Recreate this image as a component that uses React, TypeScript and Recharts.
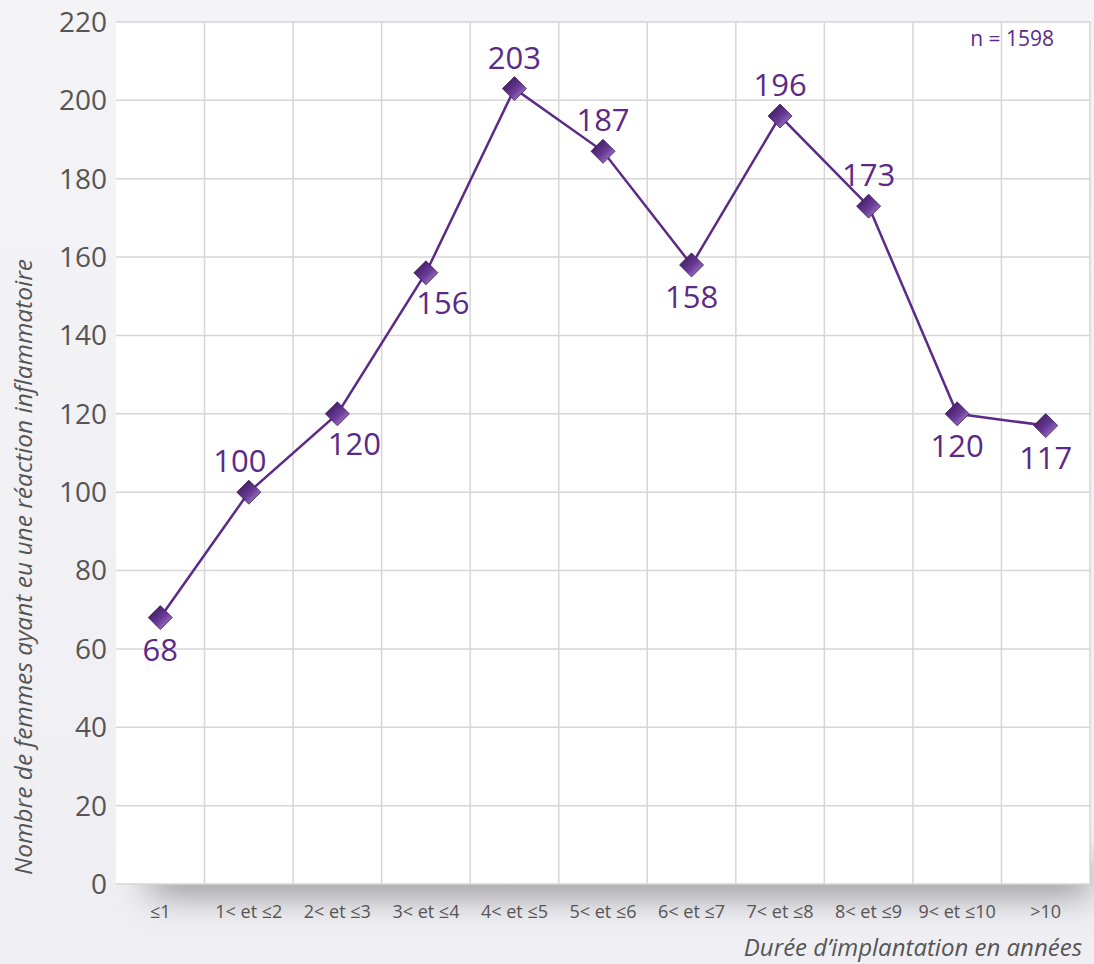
import React from "react";
import {
  LineChart,
  Line,
  XAxis,
  YAxis,
  CartesianGrid,
  LabelList,
  Label,
  Customized,
} from "recharts";

const categories = [
  "≤1",
  "1< et ≤2",
  "2< et ≤3",
  "3< et ≤4",
  "4< et ≤5",
  "5< et ≤6",
  "6< et ≤7",
  "7< et ≤8",
  "8< et ≤9",
  "9< et ≤10",
  ">10",
];
const femmes = [68, 100, 120, 156, 203, 187, 158, 196, 173, 120, 117];
// where each value label sits relative to its point
const labelPlacement = ["below", "above", "belowRight", "belowRight", "above", "above", "below", "above", "above", "below", "below"];
const yTicks = [0, 20, 40, 60, 80, 100, 120, 140, 160, 180, 200, 220];
const totalN = 1598;

const data = categories.map((c, i) => ({ cat: c, femmes: femmes[i] }));

const FONT = "'Open Sans', sans-serif";
const PURPLE = "#5b2a86";
const GREY = "#555555";

function Diamond(props: any) {
  const { cx, cy } = props;
  if (cx == null || cy == null) return null;
  const r = 12;
  return (
    <path
      d={`M${cx},${cy - r} L${cx + r},${cy} L${cx},${cy + r} L${cx - r},${cy} Z`}
      fill="url(#diamondGrad)"
      stroke="#3d1a5e"
      strokeWidth={0.8}
    />
  );
}

function ValueLabel(props: any) {
  const { x, y, width, value, index } = props;
  const cx = x + (width || 0) / 2;
  const place = labelPlacement[index];
  let dx = 0;
  let dy = -32;
  if (place === "below") dy = 31;
  if (place === "belowRight") {
    dy = 29;
    dx = 17;
  }
  if (index === 1) dx = -9;
  return (
    <text
      x={cx + dx}
      y={y + dy}
      textAnchor="middle"
      dominantBaseline="central"
      fill={PURPLE}
      fontSize={31}
      fontFamily={FONT}
    >
      {value}
    </text>
  );
}

export default function App() {
  return (
    <div
      style={{
        position: "absolute",
        left: 0,
        top: 0,
        width: 1094,
        height: 964,
        background: "linear-gradient(180deg, #f4f3f6 0%, #efeef2 100%)",
        overflow: "hidden",
      }}
    >
      <div
        style={{
          position: "absolute",
          left: 150,
          top: 862,
          width: 940,
          height: 30,
          background: "rgba(0,0,0,0.45)",
          filter: "blur(18px)",
        }}
      />
      <div style={{ position: "absolute", left: 0, top: 0 }}>
        <LineChart
          width={1094}
          height={964}
          data={data}
          margin={{ top: 22, right: 4, bottom: 0, left: 0 }}
        >
          <defs>
            <linearGradient id="diamondGrad" x1="0" y1="0" x2="1" y2="1">
              <stop offset="0%" stopColor="#2e1248" />
              <stop offset="55%" stopColor="#6a3a98" />
              <stop offset="100%" stopColor="#b79ad6" />
            </linearGradient>
          </defs>
          <CartesianGrid
            stroke="#d6d6d6"
            strokeWidth={1.5}
            fill="#ffffff"
            fillOpacity={1}
            verticalCoordinatesGenerator={({ offset }: any) =>
              categories.map(
                (_, i) => offset.left + ((i + 1) * offset.width) / categories.length
              )
            }
          />
          <XAxis
            dataKey="cat"
            scale="band"
            height={80}
            tickLine={false}
            axisLine={false}
            tickSize={0}
            tickMargin={21}
            interval={0}
            tick={{ fill: GREY, fontSize: 18, fontFamily: FONT }}
          >
            <Label
              value="Durée d’implantation en années"
              position="insideBottomRight"
              offset={8}
              fill={GREY}
              fontSize={24}
              fontStyle="italic"
              fontFamily={FONT}
            />
          </XAxis>
          <YAxis
            width={116}
            domain={[0, 220]}
            ticks={yTicks}
            tickLine={false}
            axisLine={false}
            tickSize={0}
            tickMargin={9}
            tick={{ fill: GREY, fontSize: 28, fontFamily: FONT }}
          >
            <Label
              content={(p: any) => {
                const vb = p.viewBox;
                const cy = vb.y + vb.height - 317;
                return (
                  <text
                    x={22}
                    y={cy}
                    transform={`rotate(-90, 22, ${cy})`}
                    textAnchor="middle"
                    dominantBaseline="central"
                    fill={GREY}
                    fontSize={24.5}
                    fontStyle="italic"
                    fontFamily={FONT}
                  >
                    Nombre de femmes ayant eu une réaction inflammatoire
                  </text>
                );
              }}
            />
          </YAxis>
          <Line
            dataKey="femmes"
            type="linear"
            stroke={PURPLE}
            strokeWidth={2.5}
            dot={<Diamond />}
            activeDot={false}
            isAnimationActive={false}
          >
            <LabelList dataKey="femmes" content={<ValueLabel />} />
          </Line>
          <Customized
            component={(p: any) => (
              <text
                x={p.offset ? p.offset.left + p.offset.width - 36 : 1054}
                y={46}
                textAnchor="end"
                fill={PURPLE}
                fontSize={21}
                fontFamily={FONT}
              >
                {`n = ${totalN}`}
              </text>
            )}
          />
        </LineChart>
      </div>
    </div>
  );
}
